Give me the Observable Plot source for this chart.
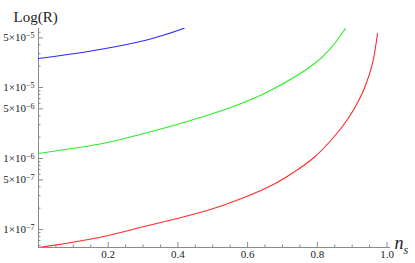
<!DOCTYPE html>
<html><head><meta charset="utf-8">
<script src="https://cdn.jsdelivr.net/npm/d3@7"></script>
<script src="https://cdn.jsdelivr.net/npm/@observablehq/plot@0.6"></script>
<style>body{margin:0;background:#fff} svg{display:block}</style>
</head><body><div id="chart"></div>
<script>
// Series values (n_s, R)
const nsRed = [0, 0.0905, 0.191, 0.2917, 0.3922, 0.4842, 0.579, 0.6739, 0.7313, 0.7888, 0.8463, 0.8865, 0.9181, 0.9382, 0.9583, 0.9727];
const rRed  = [5.58e-8, 6.52e-8, 8.02e-8, 1.067e-7, 1.41e-7, 1.854e-7, 2.69e-7, 4.31e-7, 6.35e-7, 1.016e-6, 1.976e-6, 3.54e-6, 6.45e-6, 1.067e-5, 2.18e-5, 5.77e-5];
const nsGreen = [0, 0.191, 0.2917, 0.4267, 0.5589, 0.6595, 0.7888, 0.8376, 0.8807];
const rGreen  = [1.175e-6, 1.652e-6, 2.18e-6, 3.32e-6, 5.39e-6, 8.78e-6, 2.11e-5, 3.54e-5, 6.78e-5];
const nsBlue = [0, 0.1422, 0.2859, 0.3578, 0.4181];
const rBlue  = [2.56e-5, 3.21e-5, 4.37e-5, 5.45e-5, 6.84e-5];

// Tick values and labels
const yMajor = [1e-7, 5e-7, 1e-6, 5e-6, 1e-5, 5e-5];
const yLabels = ["1×10^−7", "5×10^−7", "1×10^−6", "5×10^−6", "1×10^−5", "5×10^−5"];
const yMinor = [6e-8, 7e-8, 8e-8, 9e-8, 2e-7, 3e-7, 4e-7, 6e-7, 7e-7, 8e-7, 9e-7,
                2e-6, 3e-6, 4e-6, 6e-6, 7e-6, 8e-6, 9e-6, 2e-5, 3e-5, 4e-5, 6e-5];
const xMajor = [0.2, 0.4, 0.6, 0.8, 1.0];
const xLabels = ["0.2", "0.4", "0.6", "0.8", "1.0"];
const xMinor = [0.05, 0.1, 0.15, 0.25, 0.3, 0.35, 0.45, 0.5, 0.55, 0.65, 0.7, 0.75, 0.85, 0.9, 0.95];

const seriesNames = ["curve A", "curve B", "curve C"];
const seriesColors = ["#ff2a2a", "#2aee2a", "#2a2aff"];
const seriesX = [nsRed, nsGreen, nsBlue];
const seriesY = [rRed, rGreen, rBlue];
const rows = [];
seriesNames.forEach((s, k) => seriesX[k].forEach((x, i) => rows.push({s, x, y: seriesY[k][i]})));

const W = 415, H = 263, mL = 38, mR = 25, mT = 28, mB = 16;
const fw = W - mL - mR, fh = H - mT - mB;
const yMin = 5.58e-8, yMax = 6.78e-5;
const axisColor = "#8a8a8a";

const chart = Plot.plot({
  width: W, height: H, marginLeft: mL, marginRight: mR, marginTop: mT, marginBottom: mB,
  style: {fontFamily: "'Liberation Serif', 'Times New Roman', serif", background: "#fff", color: "#222"},
  x: {domain: [0, 1.01], axis: null},
  y: {type: "log", domain: [yMin, yMax], axis: null},
  color: {domain: seriesNames, range: seriesColors},
  marks: [
    Plot.ruleX([0], {stroke: axisColor}),
    Plot.ruleY([yMin], {stroke: axisColor}),
    Plot.tickY(yMajor, {y: d => d, stroke: axisColor, insetRight: fw - 5}),
    Plot.tickY(yMinor, {y: d => d, stroke: axisColor, insetRight: fw - 2.5}),
    Plot.tickX(xMajor, {x: d => d, stroke: axisColor, insetTop: fh - 5}),
    Plot.tickX(xMinor, {x: d => d, stroke: axisColor, insetTop: fh - 2.5}),
    Plot.text(yMajor, {y: d => d, frameAnchor: "left", text: (d, i) => yLabels[i], textAnchor: "end", dx: -4, fontSize: 11, className: "ylab"}),
    Plot.text(xMajor, {x: d => d, frameAnchor: "bottom", text: (d, i) => xLabels[i], dy: 10, fontSize: 11}),
    Plot.line(rows, {x: "x", y: "y", z: "s", stroke: "s", strokeWidth: 1.1, curve: "catmull-rom", clip: true}),
    Plot.text(["Log(R)"], {frameAnchor: "top-left", textAnchor: "start", dx: -25, dy: -17, fontSize: 15}),
    Plot.text(["n"], {frameAnchor: "bottom-right", textAnchor: "start", dx: 4, dy: 1, fontSize: 18, fontStyle: "italic"}),
    Plot.text(["s"], {frameAnchor: "bottom-right", textAnchor: "start", dx: 13, dy: 6, fontSize: 12, fontStyle: "italic"})
  ]
});

// Render exponents as superscripts
d3.select(chart).selectAll(".ylab text").each(function() {
  const t = this.textContent;
  const [base, exp] = t.split("^");
  const sel = d3.select(this);
  sel.text(base);
  sel.append("tspan").attr("dy", "-0.4em").attr("font-size", "8px").text(exp);
});

document.getElementById("chart").appendChild(chart);
</script>
</body></html>
